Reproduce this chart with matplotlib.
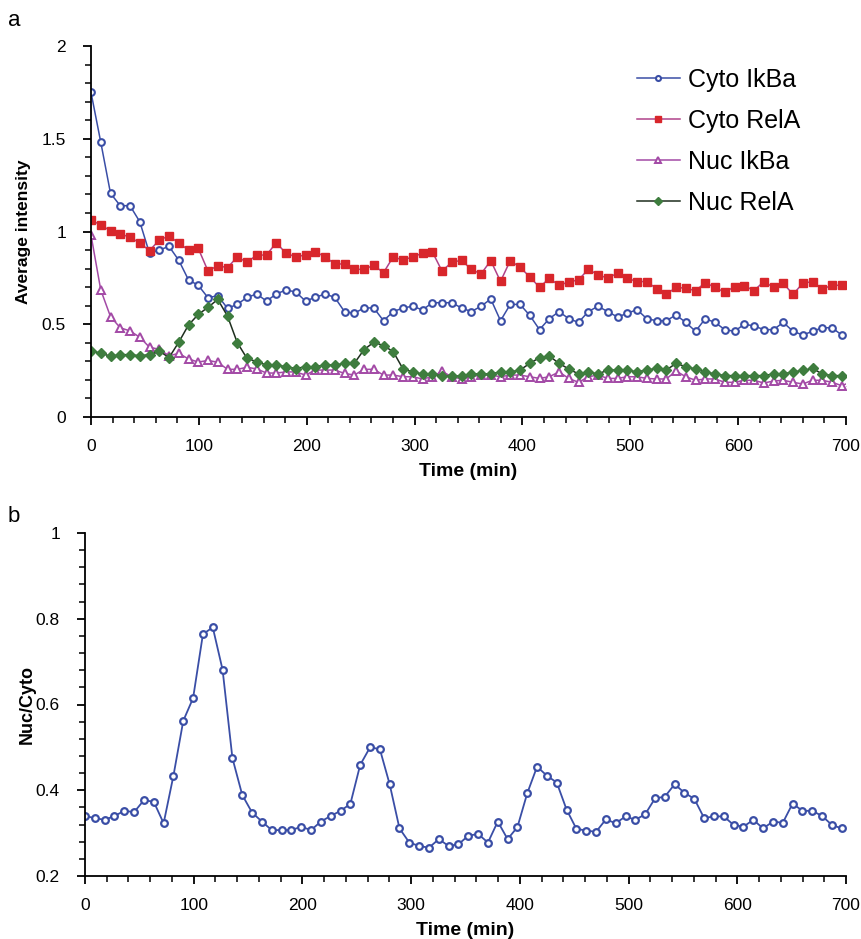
import numpy as np
import matplotlib
matplotlib.use("Agg")
import matplotlib.pyplot as plt
from matplotlib.ticker import MultipleLocator

plt.rcParams['font.family'] = ['Liberation Sans', 'DejaVu Sans']

# frames every ~9 min
frame_min = 9.04
n_frames = 79

cyto_ikba = [1.750, 1.482, 1.206, 1.139, 1.139, 1.053, 0.882, 0.900, 0.920, 0.845,
             0.739, 0.710, 0.643, 0.654, 0.586, 0.607, 0.645, 0.663, 0.625, 0.663,
             0.685, 0.674, 0.625, 0.645, 0.663, 0.645, 0.568, 0.559, 0.588, 0.588,
             0.519, 0.568, 0.588, 0.597, 0.577, 0.616, 0.616, 0.616, 0.588, 0.568,
             0.597, 0.636, 0.519, 0.607, 0.607, 0.548, 0.471, 0.530, 0.568, 0.530,
             0.510, 0.568, 0.597, 0.568, 0.539, 0.559, 0.579, 0.530, 0.519, 0.519,
             0.550, 0.510, 0.462, 0.530, 0.510, 0.471, 0.462, 0.500, 0.491, 0.471,
             0.471, 0.510, 0.462, 0.442, 0.462, 0.481, 0.481, 0.442, 0.450]

cyto_rela = [1.062, 1.035, 1.004, 0.987, 0.969, 0.938, 0.897, 0.954, 0.976, 0.938,
             0.900, 0.909, 0.787, 0.816, 0.805, 0.863, 0.834, 0.873, 0.873, 0.940,
             0.882, 0.864, 0.873, 0.891, 0.864, 0.825, 0.825, 0.796, 0.796, 0.818,
             0.778, 0.864, 0.845, 0.864, 0.882, 0.891, 0.787, 0.834, 0.845, 0.796,
             0.771, 0.843, 0.731, 0.843, 0.807, 0.756, 0.699, 0.748, 0.710, 0.728,
             0.739, 0.796, 0.767, 0.748, 0.776, 0.748, 0.730, 0.730, 0.692, 0.661,
             0.699, 0.694, 0.681, 0.724, 0.699, 0.672, 0.703, 0.708, 0.681, 0.730,
             0.699, 0.721, 0.661, 0.721, 0.730, 0.690, 0.710, 0.710, 0.680]

nuc_ikba = [0.981, 0.685, 0.541, 0.481, 0.464, 0.430, 0.376, 0.365, 0.330, 0.343,
            0.313, 0.296, 0.305, 0.295, 0.257, 0.257, 0.268, 0.259, 0.237, 0.237,
            0.243, 0.243, 0.226, 0.253, 0.253, 0.253, 0.235, 0.226, 0.257, 0.257,
            0.226, 0.226, 0.217, 0.217, 0.205, 0.217, 0.246, 0.217, 0.205, 0.217,
            0.226, 0.226, 0.217, 0.226, 0.226, 0.217, 0.208, 0.217, 0.243, 0.208,
            0.187, 0.217, 0.226, 0.208, 0.208, 0.217, 0.217, 0.208, 0.205, 0.205,
            0.248, 0.217, 0.198, 0.205, 0.205, 0.187, 0.187, 0.198, 0.198, 0.183,
            0.194, 0.198, 0.187, 0.178, 0.198, 0.198, 0.187, 0.169, 0.190]

nuc_rela = [0.356, 0.345, 0.327, 0.336, 0.336, 0.330, 0.336, 0.356, 0.320, 0.403,
            0.496, 0.553, 0.591, 0.634, 0.544, 0.401, 0.316, 0.298, 0.280, 0.280,
            0.271, 0.261, 0.271, 0.271, 0.280, 0.280, 0.289, 0.289, 0.363, 0.403,
            0.385, 0.352, 0.259, 0.243, 0.232, 0.232, 0.221, 0.221, 0.221, 0.232,
            0.232, 0.232, 0.243, 0.243, 0.253, 0.289, 0.320, 0.329, 0.289, 0.259,
            0.232, 0.243, 0.232, 0.253, 0.253, 0.253, 0.243, 0.253, 0.262, 0.253,
            0.289, 0.271, 0.259, 0.243, 0.232, 0.223, 0.223, 0.223, 0.223, 0.223,
            0.232, 0.232, 0.243, 0.251, 0.262, 0.232, 0.223, 0.223, 0.218]

nuc_cyto = [0.340, 0.335, 0.331, 0.340, 0.352, 0.349, 0.377, 0.373, 0.323, 0.434,
            0.562, 0.615, 0.764, 0.780, 0.681, 0.475, 0.389, 0.348, 0.327, 0.307,
            0.307, 0.307, 0.315, 0.307, 0.327, 0.340, 0.352, 0.368, 0.459, 0.500,
            0.496, 0.414, 0.311, 0.278, 0.270, 0.266, 0.286, 0.270, 0.274, 0.294,
            0.298, 0.278, 0.327, 0.286, 0.314, 0.393, 0.455, 0.434, 0.418, 0.355,
            0.310, 0.306, 0.303, 0.332, 0.323, 0.339, 0.331, 0.344, 0.381, 0.385,
            0.414, 0.394, 0.380, 0.335, 0.339, 0.339, 0.319, 0.315, 0.331, 0.311,
            0.327, 0.324, 0.369, 0.352, 0.352, 0.340, 0.319, 0.311, 0.305]

times = frame_min * np.arange(n_frames)

BLUE = '#3a4ea6'
RED = '#d8262b'
REDLINE = '#b0428a'
PURPLE = '#a34aa6'
GREEN = '#3e7d3e'


def style_axis(ax, ymin, ymax, ymaj, ymin_step):
    ax.spines['top'].set_visible(False)
    ax.spines['right'].set_visible(False)
    ax.spines['left'].set_linewidth(1.3)
    ax.spines['bottom'].set_linewidth(1.3)
    ax.set_xlim(0, 700)
    ax.set_ylim(ymin, ymax)
    ax.xaxis.set_major_locator(MultipleLocator(100))
    ax.xaxis.set_minor_locator(MultipleLocator(20))
    ax.yaxis.set_major_locator(MultipleLocator(ymaj))
    ax.yaxis.set_minor_locator(MultipleLocator(ymin_step))
    ax.tick_params(which='major', direction='out', length=6, width=1.3, labelsize=12.5)
    ax.tick_params(which='minor', direction='out', length=4.5, width=1.1)
    ax.tick_params(axis='x', which='major', pad=9.5)
    ax.tick_params(axis='y', which='major', pad=12)
    ax.yaxis.set_major_formatter(plt.FuncFormatter(lambda v, p: f'{v:g}'))
    ax.set_xlabel('Time (min)', fontsize=14, fontweight='bold', labelpad=7)


fig = plt.figure(figsize=(8.62, 9.39), dpi=100)
W, H = 862, 939
ax1 = fig.add_axes([91 / W, 1 - 417 / H, (846 - 91) / W, (417 - 46) / H])
ax2 = fig.add_axes([85 / W, 1 - 876 / H, (846 - 85) / W, (876 - 533) / H])

# panel a
ax1.plot(times, cyto_ikba, color=BLUE, lw=1.1, marker='o', ms=4.8, mfc='white',
         mec=BLUE, mew=1.5, label='Cyto IkBa')
ax1.plot(times, cyto_rela, color=REDLINE, lw=1.1, marker='s', ms=5.2, mfc=RED,
         mec=RED, label='Cyto RelA')
ax1.plot(times, nuc_ikba, color=PURPLE, lw=1.1, marker='^', ms=5.6, mfc='white',
         mec=PURPLE, mew=1.4, label='Nuc IkBa')
ax1.plot(times, nuc_rela, color='#1e2e1e', lw=1.1, marker='D', ms=5.2, mfc=GREEN,
         mec=GREEN, label='Nuc RelA')
style_axis(ax1, 0, 2, 0.5, 0.1)
ax1.set_ylabel('Average intensity', fontsize=12.5, fontweight='bold', labelpad=8)
ax1.legend(loc='upper left', bbox_to_anchor=(637 / W, 1 - 68 / H),
           bbox_transform=fig.transFigure, frameon=False, fontsize=18,
           borderpad=0, borderaxespad=0, markerscale=0.75,
           handlelength=1.7, labelspacing=0.68, handletextpad=0.35)

# panel b
ax2.plot(times, nuc_cyto, color=BLUE, lw=1.3, marker='o', ms=4.8, mfc='white',
         mec=BLUE, mew=1.6)
style_axis(ax2, 0.2, 1.0, 0.2, 0.04)
ax2.set_ylabel('Nuc/Cyto', fontsize=13, fontweight='bold', labelpad=0)

fig.text(8 / W, 1 - 20 / H, 'a', fontsize=16, va='center')
fig.text(8 / W, 1 - 517 / H, 'b', fontsize=16, va='center')

fig.savefig('out.png', dpi=100)
